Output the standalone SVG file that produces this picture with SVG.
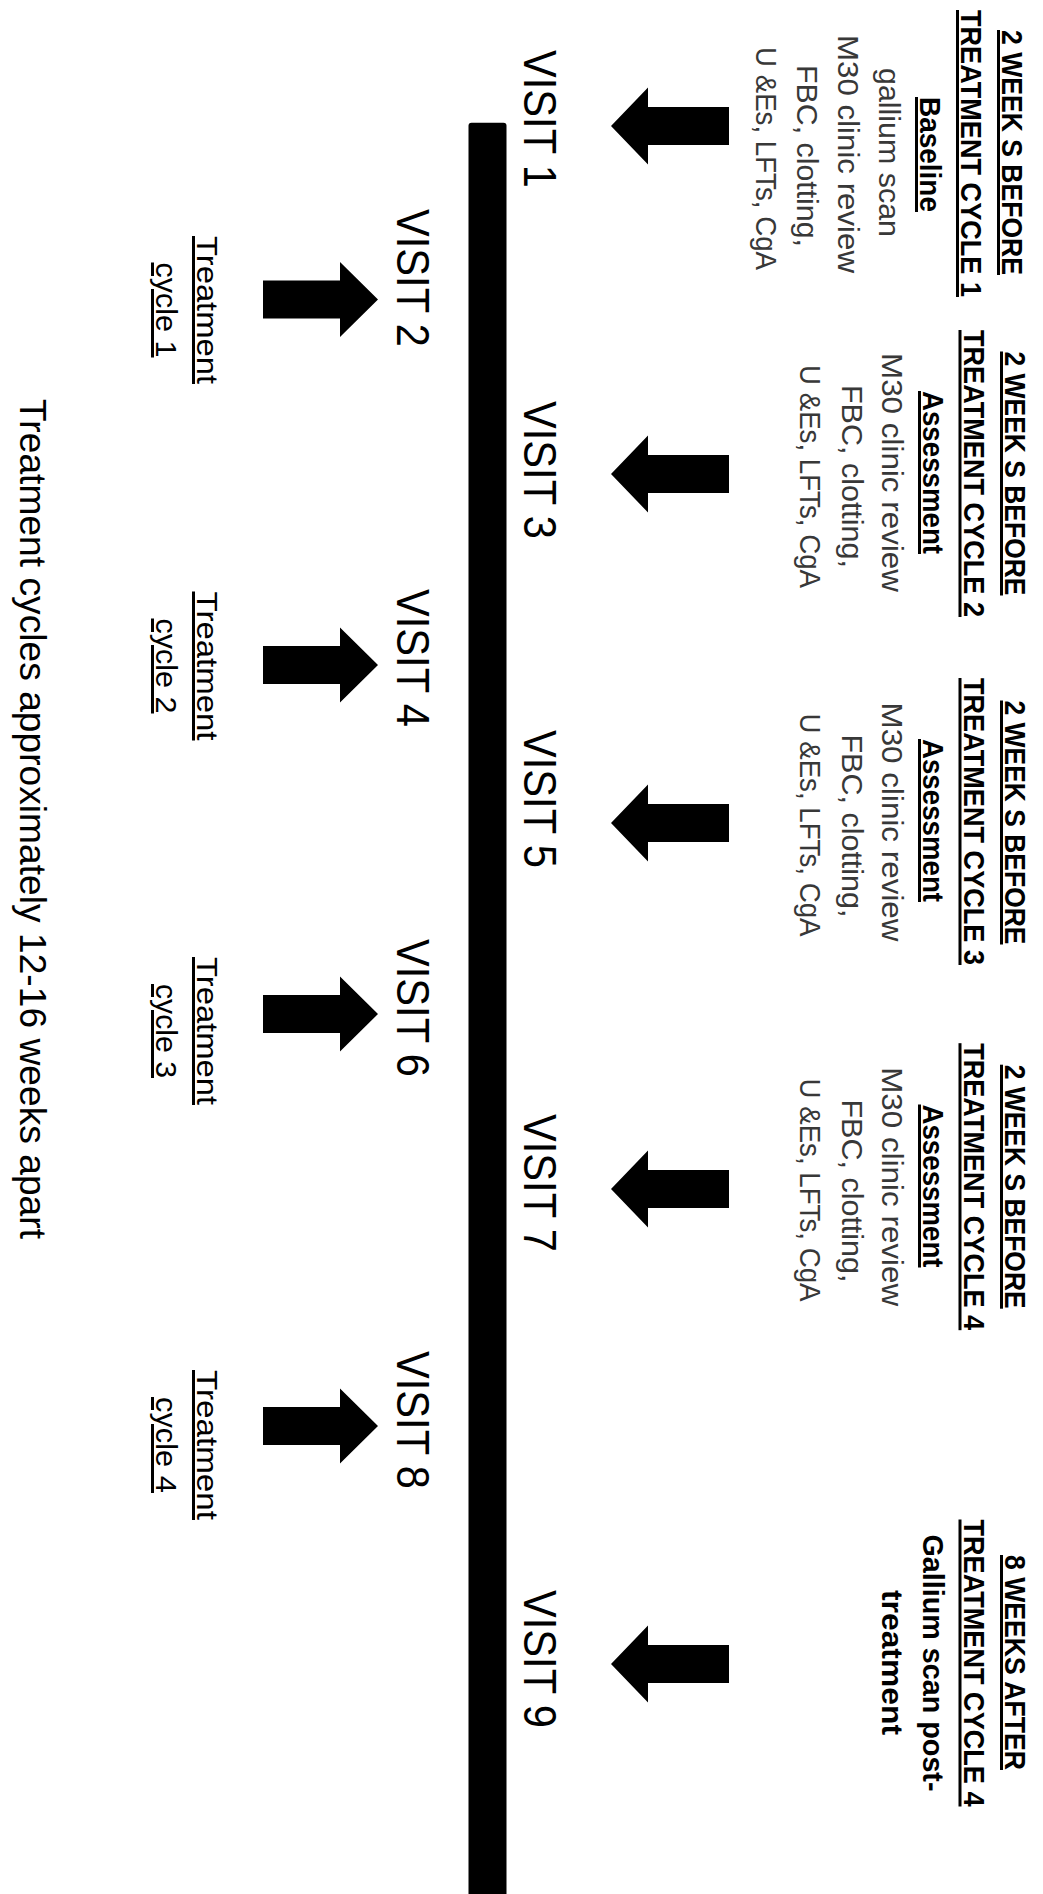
<svg xmlns="http://www.w3.org/2000/svg" xmlns:xlink="http://www.w3.org/1999/xlink" width="1043" height="1894" viewBox="0 0 1043 1894">
<style>
text{font-family:"Liberation Sans",Arial,sans-serif;text-anchor:middle;fill:#000}
.h{font-size:30px;font-weight:bold}
.u{text-decoration:underline}
.r{font-size:30px;fill:#383838}
.v{font-size:46px}
.t{font-size:30px}
.cap{font-size:37px}
.arr{fill:#000}
</style>
<defs>
<path id="arrDown" d="M-19,314 H19 V395 H38.5 L0,432 L-38.5,395 H-19 Z"/>
<path id="arrUp" d="M-19,780 H19 V703 H37.5 L0,665 L-37.5,703 H-19 Z"/>
</defs>
<rect width="1043" height="1894" fill="#fff"/>
<g transform="translate(1043,0) rotate(90)">
<g id="timeline">
<rect x="122.7" y="536.5" width="1800" height="38" rx="3" fill="#000"/>
</g>
<g id="connectors" class="arr">
<use xlink:href="#arrDown" x="126"/>
<use xlink:href="#arrDown" x="474"/>
<use xlink:href="#arrDown" x="823"/>
<use xlink:href="#arrDown" x="1189"/>
<use xlink:href="#arrDown" x="1664"/>
<use xlink:href="#arrUp" x="299.5"/>
<use xlink:href="#arrUp" x="665"/>
<use xlink:href="#arrUp" x="1014"/>
<use xlink:href="#arrUp" x="1426"/>
</g>
<g id="visit1">
<text class="v" x="119" y="519" textLength="138" lengthAdjust="spacingAndGlyphs">VISIT 1</text>
<text class="h u" x="152.5" y="41" textLength="245" lengthAdjust="spacingAndGlyphs">2 WEEK S BEFORE</text>
<text class="h u" x="153.5" y="82" textLength="287" lengthAdjust="spacingAndGlyphs">TREATMENT CYCLE 1</text>
<text class="h u" x="154.5" y="123" textLength="115" lengthAdjust="spacingAndGlyphs">Baseline</text>
<text class="r" x="152.5" y="164" textLength="169" lengthAdjust="spacingAndGlyphs">gallium scan</text>
<text class="r" x="154" y="205" textLength="238" lengthAdjust="spacingAndGlyphs">M30 clinic review</text>
<text class="r" x="156" y="246" textLength="182" lengthAdjust="spacingAndGlyphs">FBC, clotting,</text>
<text class="r" x="158.5" y="287" textLength="223" lengthAdjust="spacingAndGlyphs">U &amp;Es, LFTs, CgA</text>
</g>
<g id="visit2">
<text class="v" x="278" y="646" textLength="138" lengthAdjust="spacingAndGlyphs">VISIT 2</text>
<text class="t u" x="310" y="846" textLength="148" lengthAdjust="spacingAndGlyphs">Treatment</text>
<text class="t u" x="310" y="887" textLength="95" lengthAdjust="spacingAndGlyphs">cycle 1</text>
</g>
<g id="visit3">
<text class="v" x="470" y="519" textLength="138" lengthAdjust="spacingAndGlyphs">VISIT 3</text>
<text class="h u" x="473.5" y="38" textLength="244" lengthAdjust="spacingAndGlyphs">2 WEEK S BEFORE</text>
<text class="h u" x="473.5" y="79.5" textLength="287" lengthAdjust="spacingAndGlyphs">TREATMENT CYCLE 2</text>
<text class="h u" x="472.5" y="120" textLength="163" lengthAdjust="spacingAndGlyphs">Assessment</text>
<text class="r" x="472.5" y="161" textLength="239" lengthAdjust="spacingAndGlyphs">M30 clinic review</text>
<text class="r" x="476.5" y="201.5" textLength="183" lengthAdjust="spacingAndGlyphs">FBC, clotting,</text>
<text class="r" x="476.5" y="243" textLength="223" lengthAdjust="spacingAndGlyphs">U &amp;Es, LFTs, CgA</text>
</g>
<g id="visit4">
<text class="v" x="658" y="646" textLength="138" lengthAdjust="spacingAndGlyphs">VISIT 4</text>
<text class="t u" x="666" y="846" textLength="149" lengthAdjust="spacingAndGlyphs">Treatment</text>
<text class="t u" x="666" y="887" textLength="95" lengthAdjust="spacingAndGlyphs">cycle 2</text>
</g>
<g id="visit5">
<text class="v" x="799" y="519" textLength="138" lengthAdjust="spacingAndGlyphs">VISIT 5</text>
<text class="h u" x="822.5" y="38" textLength="244" lengthAdjust="spacingAndGlyphs">2 WEEK S BEFORE</text>
<text class="h u" x="821.5" y="79.5" textLength="287" lengthAdjust="spacingAndGlyphs">TREATMENT CYCLE 3</text>
<text class="h u" x="820.5" y="120" textLength="163" lengthAdjust="spacingAndGlyphs">Assessment</text>
<text class="r" x="822" y="161" textLength="239" lengthAdjust="spacingAndGlyphs">M30 clinic review</text>
<text class="r" x="826" y="201.5" textLength="183" lengthAdjust="spacingAndGlyphs">FBC, clotting,</text>
<text class="r" x="825" y="243" textLength="223" lengthAdjust="spacingAndGlyphs">U &amp;Es, LFTs, CgA</text>
</g>
<g id="visit6">
<text class="v" x="1008" y="646" textLength="138" lengthAdjust="spacingAndGlyphs">VISIT 6</text>
<text class="t u" x="1031" y="846" textLength="148" lengthAdjust="spacingAndGlyphs">Treatment</text>
<text class="t u" x="1031" y="887" textLength="94" lengthAdjust="spacingAndGlyphs">cycle 3</text>
</g>
<g id="visit7">
<text class="v" x="1183" y="519" textLength="138" lengthAdjust="spacingAndGlyphs">VISIT 7</text>
<text class="h u" x="1186.7" y="38" textLength="244" lengthAdjust="spacingAndGlyphs">2 WEEK S BEFORE</text>
<text class="h u" x="1186.7" y="79.5" textLength="287" lengthAdjust="spacingAndGlyphs">TREATMENT CYCLE 4</text>
<text class="h u" x="1186" y="120" textLength="163" lengthAdjust="spacingAndGlyphs">Assessment</text>
<text class="r" x="1186.7" y="161" textLength="239" lengthAdjust="spacingAndGlyphs">M30 clinic review</text>
<text class="r" x="1191" y="201.5" textLength="183" lengthAdjust="spacingAndGlyphs">FBC, clotting,</text>
<text class="r" x="1190" y="243" textLength="223" lengthAdjust="spacingAndGlyphs">U &amp;Es, LFTs, CgA</text>
</g>
<g id="visit8">
<text class="v" x="1420" y="646" textLength="138" lengthAdjust="spacingAndGlyphs">VISIT 8</text>
<text class="t u" x="1445" y="846" textLength="150" lengthAdjust="spacingAndGlyphs">Treatment</text>
<text class="t u" x="1445" y="887" textLength="96" lengthAdjust="spacingAndGlyphs">cycle 4</text>
</g>
<g id="visit9">
<text class="v" x="1659" y="519" textLength="138" lengthAdjust="spacingAndGlyphs">VISIT 9</text>
<text class="h u" x="1662.5" y="38" textLength="215" lengthAdjust="spacingAndGlyphs">8 WEEKS AFTER</text>
<text class="h u" x="1663" y="79.5" textLength="287" lengthAdjust="spacingAndGlyphs">TREATMENT CYCLE 4</text>
<text class="h" x="1663" y="120" textLength="257" lengthAdjust="spacingAndGlyphs">Gallium scan post-</text>
<text class="h" x="1662.5" y="161" textLength="145" lengthAdjust="spacingAndGlyphs">treatment</text>
</g>
<g id="caption">
<text class="cap" x="819" y="1023" textLength="840" lengthAdjust="spacingAndGlyphs">Treatment cycles approximately 12-16 weeks apart</text>
</g>
</g>
</svg>
